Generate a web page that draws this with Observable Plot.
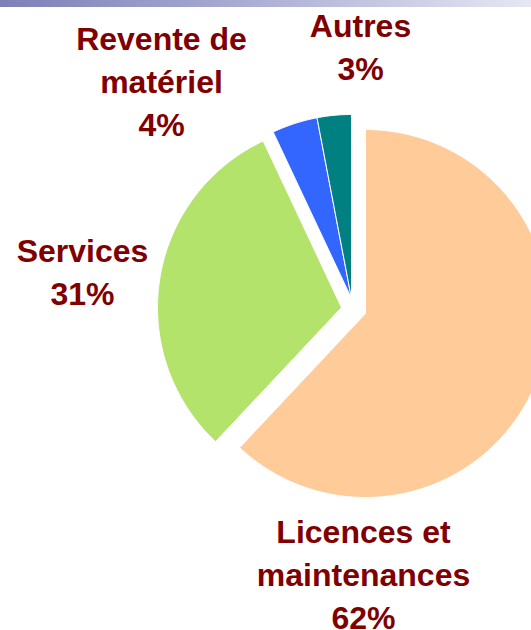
<!DOCTYPE html>
<html>
<head>
<meta charset="utf-8">
<script src="https://cdn.jsdelivr.net/npm/d3@7"></script>
<script src="https://cdn.jsdelivr.net/npm/@observablehq/plot@0.6"></script>
<style>
  html, body { margin: 0; padding: 0; background: #fff; overflow: hidden; }
  #wrap { position: relative; width: 531px; height: 630px; }
  #band { position: absolute; left: 0; top: 0; width: 531px; height: 7px;
          background: linear-gradient(to right, #7d7fb7, #a9abd2 45%, #e6e7f3); z-index: 2; }
</style>
</head>
<body>
<div id="wrap"><div id="band"></div></div>
<script>
// ---- data ----
const categories = ["Licences et maintenances", "Services", "Revente de matériel", "Autres"];
const shares = [62, 31, 4, 3];
const labels = ["Licences et\nmaintenances\n62%", "Services\n31%", "Revente de\nmatériel\n4%", "Autres\n3%"];

// ---- layout / style (not data) ----
const colors = ["#ffcc99", "#b3e36a", "#3366ff", "#008080"];
const center = [365, 313];
const radius = 184;
const explode = [[0, 0], [-24, -6], [-14, -15], [-14, -15]];
const labelAt = [[363, 571.5], [82, 269], [161, 78.5], [360, 44.5]];

const pie = d3.pie().sort(null).value(d => d)(shares);
const pts = [];
pie.forEach((s, i) => {
  const cx = center[0] + explode[i][0], cy = center[1] + explode[i][1];
  const n = Math.max(8, Math.ceil((s.endAngle - s.startAngle) * 60));
  pts.push({cat: categories[i], x: cx, y: cy});
  for (let k = 0; k <= n; k++) {
    const a = s.startAngle + (s.endAngle - s.startAngle) * k / n;
    pts.push({cat: categories[i], x: cx + radius * Math.sin(a), y: cy - radius * Math.cos(a)});
  }
  pts.push({cat: categories[i], x: cx, y: cy});
});
const lab = categories.map((c, i) => ({cat: c, text: labels[i], x: labelAt[i][0], y: labelAt[i][1]}));

const chart = Plot.plot({
  width: 531,
  height: 630,
  margin: 0,
  x: {domain: [0, 531], range: [0, 531], axis: null},
  y: {domain: [0, 630], range: [0, 630], axis: null},
  color: {domain: categories, range: colors},
  style: {background: "#fff"},
  marks: [
    Plot.line(pts, {x: "x", y: "y", z: "cat", fill: "cat", stroke: "#fff", strokeWidth: 1, curve: "linear", clip: true}),
    Plot.text(lab, {x: "x", y: "y", text: "text", fill: "#800000", fontSize: 32, fontWeight: "bold",
      fontFamily: "'Liberation Sans', Arial, sans-serif", lineHeight: 1.35, textAnchor: "middle"})
  ]
});
document.getElementById("wrap").appendChild(chart);
</script>
</body>
</html>
